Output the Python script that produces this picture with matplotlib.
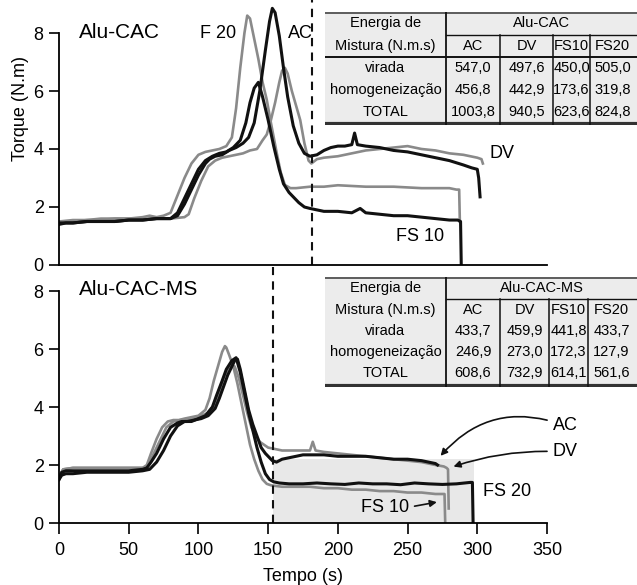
import matplotlib
matplotlib.use("Agg")
import matplotlib.pyplot as plt
from matplotlib.patches import Rectangle

plt.rcParams['font.family'] = ['Liberation Sans', 'DejaVu Sans']

# ---- Alu-CAC (top panel) ----
t_ac_top = [0, 5, 10, 20, 30, 40, 50, 60, 70, 80, 85, 90, 95, 100, 105, 108, 112, 117, 122, 127, 132, 136, 140,
            144, 148, 151, 153, 155, 158, 161, 164, 168, 172, 176, 180, 185, 190, 195, 200, 205, 210, 212, 214,
            220, 230, 240, 250, 260, 270, 280, 290, 296, 300, 301, 302]
v_ac_top = [1.4, 1.45, 1.45, 1.5, 1.5, 1.5, 1.55, 1.55, 1.6, 1.6, 1.7, 2.1, 2.6, 3.1, 3.5, 3.65, 3.75, 3.8, 3.95,
            4.05, 4.2, 4.4, 4.9, 6.0, 7.4, 8.4, 8.85, 8.7, 7.9, 6.8, 5.8, 4.8, 4.2, 3.85, 3.75, 3.8, 3.95, 4.05,
            4.1, 4.1, 4.15, 4.55, 4.15, 4.1, 4.05, 3.95, 3.9, 3.8, 3.7, 3.6, 3.45, 3.35, 3.3, 3.0, 2.35]

t_fs10_top = [0, 10, 20, 30, 40, 50, 60, 70, 80, 85, 90, 95, 100, 105, 110, 115, 120, 125, 130, 134, 137, 140, 143,
              146, 150, 154, 158, 161, 165, 168, 172, 176, 180, 190, 200, 210, 216, 220, 230, 240, 250, 260, 270,
              280, 286, 288, 288.5]
v_fs10_top = [1.45, 1.45, 1.5, 1.5, 1.5, 1.55, 1.55, 1.6, 1.6, 1.8, 2.3, 2.8, 3.3, 3.6, 3.75, 3.85, 3.9, 4.05, 4.3,
              4.9, 5.6, 6.1, 6.3, 5.8, 5.0, 4.1, 3.3, 2.8, 2.5, 2.35, 2.15, 2.0, 1.95, 1.85, 1.85, 1.8, 1.95, 1.8,
              1.75, 1.7, 1.7, 1.65, 1.6, 1.55, 1.55, 1.5, 0]

t_fs20_top = [0, 10, 20, 30, 40, 50, 60, 65, 70, 75, 80, 85, 90, 95, 100, 105, 110, 115, 120, 124, 127, 130, 133,
              135, 137, 140, 143, 146, 149, 152, 156, 159, 162, 166, 170, 180, 190, 200, 220, 240, 260, 280, 285,
              287, 287.5]
v_fs20_top = [1.5, 1.55, 1.55, 1.6, 1.6, 1.6, 1.65, 1.7, 1.65, 1.7, 1.8, 2.4, 3.0, 3.5, 3.8, 3.9, 3.95, 4.0, 4.1,
              4.4, 5.4, 6.8, 8.0, 8.6, 8.5, 7.8, 7.1, 6.3, 5.7, 4.9, 3.9, 3.2, 2.76, 2.65, 2.65, 2.7, 2.7, 2.75,
              2.7, 2.7, 2.65, 2.65, 2.6, 2.6, 1.5]

t_dv_top = [0, 10, 20, 30, 40, 50, 60, 70, 80, 90, 93, 97, 102, 107, 112, 117, 122, 127, 132, 137, 142, 146, 149,
            152, 155, 158, 160, 162, 164, 167, 170, 173, 176, 179, 181, 185, 190, 200, 210, 220, 230, 240, 250,
            260, 270, 280, 290, 300, 303, 304]
v_dv_top = [1.5, 1.5, 1.55, 1.55, 1.6, 1.6, 1.6, 1.6, 1.6, 1.65, 1.75, 2.3, 2.9, 3.4, 3.6, 3.7, 3.75, 3.8, 3.85,
            3.95, 4.0, 4.3, 4.5, 5.0, 5.6, 6.3, 6.7, 6.8, 6.6, 6.0, 5.5, 5.0, 4.2, 3.6, 3.5, 3.65, 3.7, 3.75, 3.85,
            3.95, 4.0, 4.05, 4.1, 4.0, 3.95, 3.85, 3.8, 3.7, 3.65, 3.5]

# ---- Alu-CAC-MS (bottom panel) ----
t_ac_bot = [0, 2, 5, 10, 20, 30, 40, 50, 60, 63, 66, 70, 75, 80, 85, 88, 92, 97, 102, 107, 112, 115, 118, 121, 124,
            126, 128, 130, 133, 136, 139, 142, 145, 148, 150, 153, 156, 160, 165, 170, 175, 180, 190, 200, 210,
            220, 230, 240, 250, 260, 265, 270, 271.5]
v_ac_bot = [1.5, 1.75, 1.8, 1.8, 1.8, 1.8, 1.8, 1.8, 1.85, 1.9, 2.1, 2.4, 2.9, 3.3, 3.45, 3.5, 3.5, 3.55, 3.6, 3.7,
            3.95, 4.3, 4.7, 5.1, 5.4, 5.6, 5.65, 5.3, 4.6, 3.9, 3.4, 3.0, 2.6, 2.4, 2.3, 2.15, 2.1, 2.2, 2.25, 2.3,
            2.35, 2.35, 2.35, 2.3, 2.3, 2.3, 2.25, 2.2, 2.2, 2.15, 2.1, 2.05, 2.0]

t_fs20_bot = [0, 2, 5, 10, 20, 30, 40, 50, 60, 65, 70, 75, 80, 85, 90, 95, 100, 105, 110, 113, 117, 120, 124, 127,
              130, 133, 136, 139, 142, 145, 148, 151, 154, 158, 165, 175, 185, 195, 205, 215, 225, 235, 245, 255,
              265, 275, 285, 295, 296.5, 297]
v_fs20_bot = [1.5, 1.65, 1.7, 1.7, 1.75, 1.75, 1.75, 1.75, 1.8, 1.85, 2.1, 2.5, 3.0, 3.35, 3.5, 3.5, 3.6, 3.7, 4.0,
              4.4, 4.9, 5.3, 5.6, 5.7, 5.2, 4.5, 3.8, 3.2, 2.6, 2.1, 1.7, 1.5, 1.42, 1.38, 1.35, 1.35, 1.38, 1.35,
              1.33, 1.38, 1.35, 1.35, 1.32, 1.38, 1.35, 1.33, 1.35, 1.4, 1.4, 0]

t_dv_bot = [0, 3, 10, 20, 30, 40, 50, 60, 63, 67, 72, 77, 82, 87, 92, 97, 102, 107, 112, 115, 118, 121, 124, 126,
            129, 132, 135, 138, 141, 144, 147, 150, 155, 160, 170, 180, 182, 184, 190, 200, 210, 220, 230, 240,
            250, 260, 270, 276, 278, 279, 279.5]
v_dv_bot = [1.6, 1.85, 1.9, 1.9, 1.9, 1.9, 1.9, 1.9, 1.95, 2.3, 2.8, 3.3, 3.5, 3.55, 3.55, 3.6, 3.7, 3.8, 4.1, 4.5,
            5.0, 5.3, 5.45, 5.4, 5.0, 4.4, 3.8, 3.3, 3.0, 2.8, 2.7, 2.6, 2.55, 2.5, 2.5, 2.5, 2.8, 2.5, 2.45, 2.4,
            2.35, 2.3, 2.25, 2.2, 2.15, 2.1, 2.0, 1.95, 1.9, 1.85, 0.5]

t_fs10_bot = [0, 3, 10, 20, 30, 40, 50, 60, 63, 66, 70, 74, 78, 82, 86, 90, 95, 100, 105, 108, 111, 114, 117, 119,
              120, 122, 125, 128, 131, 134, 137, 140, 143, 146, 149, 152, 155, 160, 170, 180, 190, 200, 210, 220,
              230, 240, 250, 260, 270, 275, 276.5, 277]
v_fs10_bot = [1.6, 1.85, 1.9, 1.9, 1.9, 1.9, 1.9, 1.9, 2.0, 2.4, 2.9, 3.3, 3.5, 3.55, 3.55, 3.6, 3.65, 3.7, 3.9,
              4.3, 4.9, 5.4, 5.9, 6.1, 6.05, 5.8, 5.4, 4.8, 4.1, 3.4, 2.7, 2.2, 1.8, 1.5, 1.35, 1.3, 1.28, 1.25,
              1.25, 1.25, 1.2, 1.2, 1.15, 1.15, 1.1, 1.1, 1.05, 1.05, 1.0, 1.0, 1.0, 0]

# dashed markers (end of "virada") and shaded homogenisation region
t_mark_top = 181.5
t_mark_bot = 153.5
shade_t = [153.5, 298]
shade_v = [2.2, 2.2]

# tables
tab_cols = ["AC", "DV", "FS10", "FS20"]
tab_rows = ["virada", "homogeneização", "TOTAL"]
tab_top = [["547,0", "497,6", "450,0", "505,0"],
           ["456,8", "442,9", "173,6", "319,8"],
           ["1003,8", "940,5", "623,6", "824,8"]]
tab_bot = [["433,7", "459,9", "441,8", "433,7"],
           ["246,9", "273,0", "172,3", "127,9"],
           ["608,6", "732,9", "614,1", "561,6"]]

W, H = 637, 585
fig = plt.figure(figsize=(W / 100, H / 100), dpi=100)

BLACK = '#111111'
GRAY = '#8a8a8a'


def style_axis(ax, ymax, show_x):
    ax.set_xlim(0, 350)
    ax.set_ylim(0, ymax)
    for s in ['top', 'right']:
        ax.spines[s].set_visible(False)
    ax.spines['left'].set_bounds(0, 8)
    ax.spines['left'].set_linewidth(1.3)
    ax.spines['bottom'].set_linewidth(1.3)
    ax.set_yticks([0, 2, 4, 6, 8])
    ax.tick_params(axis='y', direction='out', length=7, width=1.2, labelsize=13, pad=4)
    ax.patch.set_alpha(0)
    if show_x:
        ax.set_xticks([0, 50, 100, 150, 200, 250, 300, 350])
        ax.tick_params(axis='x', direction='out', length=8, width=1.2, labelsize=13, pad=6)
    else:
        ax.tick_params(axis='x', bottom=False, labelbottom=False)


ax1 = fig.add_axes([59 / W, (H - 265) / H, 488 / W, 265 / H])
style_axis(ax1, 265 / 29, False)
ax2 = fig.add_axes([59 / W, (H - 523) / H, 488 / W, 256 / H])
style_axis(ax2, 256 / 29, True)

# top curves
ax1.plot(t_fs20_top, v_fs20_top, color=GRAY, lw=1.9)
ax1.plot(t_dv_top, v_dv_top, color=GRAY, lw=1.9)
ax1.plot(t_fs10_top, v_fs10_top, color=BLACK, lw=2.2)
ax1.plot(t_ac_top, v_ac_top, color=BLACK, lw=2.2)
ax1.axvline(t_mark_top, color=BLACK, lw=1.5, ls=(0, (4, 3)))

ax1.text(14.5, 8.0, "Alu-CAC", fontsize=15, va='center')
ax1.text(114, 8.0, "F 20", fontsize=13, va='center', ha='center')
ax1.text(173, 8.0, "AC", fontsize=13, va='center', ha='center')
ax1.text(309, 3.85, "DV", fontsize=13, va='center')
ax1.text(259, 0.97, "FS 10", fontsize=13, va='center', ha='center')
ax1.set_ylabel("Torque (N.m)", fontsize=13)
ax1.yaxis.set_label_coords(-0.062, 5.4 / (265 / 29))

# bottom curves
ax2.fill_between(shade_t, 0, shade_v, color='#e8e8e8', lw=0, zorder=0)
ax2.plot(t_dv_bot, v_dv_bot, color=GRAY, lw=1.9)
ax2.plot(t_fs10_bot, v_fs10_bot, color=GRAY, lw=1.9)
ax2.plot(t_fs20_bot, v_fs20_bot, color=BLACK, lw=2.2)
ax2.plot(t_ac_bot, v_ac_bot, color=BLACK, lw=2.2)
ax2.axvline(t_mark_bot, color=BLACK, lw=1.5, ls=(0, (4, 3)))

ax2.text(14.5, 8.05, "Alu-CAC-MS", fontsize=15, va='center')
ax2.text(304, 1.07, "FS 20", fontsize=13, va='center')
ax2.text(234, 0.55, "FS 10", fontsize=13, va='center', ha='center')
ax2.annotate("AC", xy=(273, 2.28), xytext=(354, 3.35), fontsize=13, va='center',
             arrowprops=dict(arrowstyle='-|>', color=BLACK, lw=1.2, connectionstyle='arc3,rad=0.35',
                             shrinkA=2, shrinkB=1, mutation_scale=10))
ax2.annotate("DV", xy=(282, 1.93), xytext=(354, 2.45), fontsize=13, va='center',
             arrowprops=dict(arrowstyle='-|>', color=BLACK, lw=1.2, connectionstyle='arc3,rad=0.1',
                             shrinkA=2, shrinkB=1, mutation_scale=10))
ax2.annotate("", xy=(271, 0.72), xytext=(255, 0.58),
             arrowprops=dict(arrowstyle='-|>', color=BLACK, lw=1.2, shrinkA=0, shrinkB=0, mutation_scale=10))
ax2.set_xlabel("Tempo (s)", fontsize=13, labelpad=6)


def draw_table(y0, y1, ys, colx, group, values, header_line):
    ax = fig.add_axes([325 / W, (H - y1) / H, (W - 325) / W, (y1 - y0) / H])
    ax.set_xlim(325, W)
    ax.set_ylim(y1, y0)
    ax.axis('off')
    ax.add_patch(Rectangle((325, y0), W - 325, y1 - y0, facecolor='#ececec', edgecolor='none', zorder=0))
    ax.plot([325, W], [y0 + 0.5, y0 + 0.5], color='#444444', lw=1.2)
    ax.plot([325, W], [y1 - 1.5, y1 - 1.5], color='#333333', lw=3)
    ax.plot([colx[0], colx[0]], [y0, y1], color=BLACK, lw=1.3)
    for x in colx[1:]:
        ax.plot([x, x], [ys[1] - (ys[1] - ys[0]) / 2, y1], color=BLACK, lw=1.1)
    ax.plot([colx[0], W], [(ys[0] + ys[1]) / 2, (ys[0] + ys[1]) / 2], color=BLACK, lw=1.0)
    if header_line:
        ax.plot([325, W], [(ys[1] + ys[2]) / 2, (ys[1] + ys[2]) / 2], color=BLACK, lw=1.4)
    fs = 10.5
    xc_label = (325 + colx[0]) / 2
    ax.text(xc_label, ys[0], "Energia de", ha='center', va='center', fontsize=fs)
    ax.text(xc_label, ys[1], "Mistura (N.m.s)", ha='center', va='center', fontsize=fs)
    ax.text((colx[0] + W) / 2, ys[0], group, ha='center', va='center', fontsize=fs)
    edges = list(colx) + [W - 2]
    centers = [(edges[i] + edges[i + 1]) / 2 for i in range(4)]
    for c, name in zip(centers, tab_cols):
        ax.text(c, ys[1], name, ha='center', va='center', fontsize=fs)
    for r, (rname, rowv) in enumerate(zip(tab_rows, values)):
        ax.text(xc_label, ys[2 + r], rname, ha='center', va='center', fontsize=fs)
        for c, val in zip(centers, rowv):
            ax.text(c, ys[2 + r], val, ha='center', va='center', fontsize=fs)


draw_table(12, 125, [23, 46, 68, 90, 112], [446, 500, 553, 590], "Alu-CAC", tab_top, True)
draw_table(277, 387, [288, 310, 331, 352, 373], [446, 500, 549, 588], "Alu-CAC-MS", tab_bot, False)

fig.savefig("out.png", dpi=100)
